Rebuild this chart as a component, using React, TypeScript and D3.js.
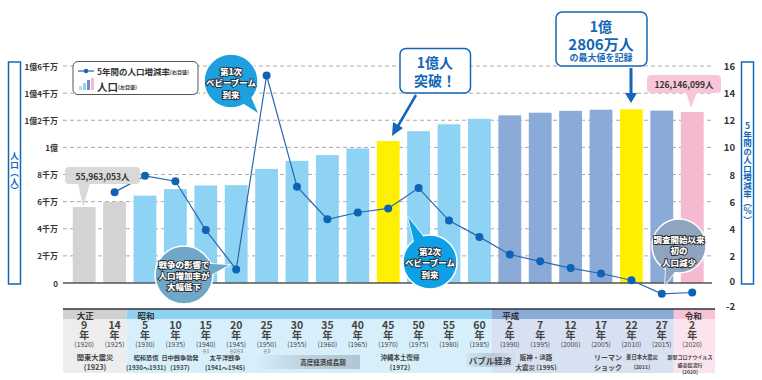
import React from 'react';
import * as d3 from 'd3';

const years = [1920, 1925, 1930, 1935, 1940, 1945, 1950, 1955, 1960, 1965, 1970, 1975, 1980, 1985, 1990, 1995, 2000, 2005, 2010, 2015, 2020];
const eraYearLabels = ['9', '14', '5', '10', '15', '20', '25', '30', '35', '40', '45', '50', '55', '60', '2', '7', '12', '17', '22', '27', '2'];
const population = [55963053, 59736822, 64450005, 69254148, 71933000, 72147000, 84114574, 90076594, 94301623, 99209137, 104665171, 111939643, 117060396, 121048923, 123611167, 125570246, 126925843, 127767994, 128057352, 127094745, 126146099];
const growthRate: (number | null)[] = [null, 6.7, 7.9, 7.5, 3.9, 1.0, 15.3, 7.1, 4.7, 5.2, 5.5, 7.0, 4.6, 3.4, 2.1, 1.6, 1.1, 0.7, 0.2, -0.8, -0.7];
const barColors = ['#d3d3d3', '#d3d3d3', '#8fd3f4', '#8fd3f4', '#8fd3f4', '#8fd3f4', '#8fd3f4', '#8fd3f4', '#8fd3f4', '#8fd3f4', '#fff000', '#8fd3f4', '#8fd3f4', '#8fd3f4', '#8aaad8', '#8aaad8', '#8aaad8', '#8aaad8', '#fff000', '#8aaad8', '#f5b9d0'];
const leftTicks = [0, 20000000, 40000000, 60000000, 80000000, 100000000, 120000000, 140000000, 160000000];
const leftTickLabels = ['0', '2千万', '4千万', '6千万', '8千万', '1億', '1億2千万', '1億4千万', '1億6千万'];
const rightTicks = [-2, 0, 2, 4, 6, 8, 10, 12, 14, 16];
const notes: Record<number, string> = { 1940: '※1', 1945: '※2※3', 1950: '※3' };
const eras = [
  { name: '大正', start: 1920, head: '#d0d0d0', body: '#ededed' },
  { name: '昭和', start: 1930, head: '#8fd3f4', body: '#d7effb' },
  { name: '平成', start: 1990, head: '#8aaad8', body: '#d7e1f1' },
  { name: '令和', start: 2020, head: '#f6c2d6', body: '#fbe4ed' },
];

const FONT = '"Noto Sans CJK JP", "Noto Sans", sans-serif';
const BLUE = '#1466b8';

function Callout({ cx, cy, r, tip, fill, lines, ly }: { cx: number; cy: number; r: number; tip: [number, number]; fill: string; lines: string[]; ly: number[] }) {
  const ang = Math.atan2(tip[1] - cy, tip[0] - cx);
  const b1: [number, number] = [cx + Math.cos(ang - 0.3) * r * 0.8, cy + Math.sin(ang - 0.3) * r * 0.8];
  const b2: [number, number] = [cx + Math.cos(ang + 0.3) * r * 0.8, cy + Math.sin(ang + 0.3) * r * 0.8];
  const tri = `M${b1[0]},${b1[1]}L${tip[0]},${tip[1]}L${b2[0]},${b2[1]}Z`;
  return (
    <g>
      <path d={tri} fill={fill} stroke="#fff" strokeWidth={1.5} />
      <circle cx={cx} cy={cy} r={r} fill={fill} stroke="#fff" strokeWidth={1.5} />
      <path d={tri} fill={fill} />
      <text textAnchor="middle" dominantBaseline="central" fontSize={8.5} fontWeight={900} fill="#fff" stroke="#222" strokeWidth={1.7} style={{ paintOrder: 'stroke' }}>
        {lines.map((t, i) => (
          <tspan key={i} x={cx} y={ly[i]}>{t}</tspan>
        ))}
      </text>
    </g>
  );
}

function Multi({ x, ys, lines, size }: { x: number; ys: number[]; lines: string[]; size: number }) {
  return (
    <text textAnchor="middle" dominantBaseline="central" fontSize={size} fontWeight={700} fill="#444">
      {lines.map((t, i) => <tspan key={i} x={x} y={ys[i]}>{t}</tspan>)}
    </text>
  );
}

export default function App() {
  const W = 762, H = 380;
  const x = d3.scaleBand<number>().domain(years).range([69, 707.4]).paddingInner(0.25).paddingOuter(0.125);
  const yL = d3.scaleLinear().domain([0, 160000000]).range([283, 66]);
  const yR = d3.scaleLinear().domain([0, 16]).range([283, 66]);
  const cxOf = (yr: number) => (x(yr) as number) + x.bandwidth() / 2;
  const lineData = years.map((yr, i) => ({ yr, v: growthRate[i] })).filter(d => d.v !== null) as { yr: number; v: number }[];
  const line = d3.line<{ yr: number; v: number }>().x(d => cxOf(d.yr)).y(d => yR(d.v));
  const gridLeft = 63, gridRight = 712;
  const eraX = (i: number) => (i === 0 ? 63 : (x(eras[i].start) as number) - 7);
  const eraEnd = (i: number) => (i === eras.length - 1 ? 715 : eraX(i + 1));

  const events = [
    { t: ['関東大震災', '(1923)'], x: 95, s: 7.3 },
    { t: ['昭和恐慌', '(1930〜1931)'], x: 146, s: 6.2 },
    { t: ['日中戦争勃発', '(1937)'], x: 180, s: 6.2 },
    { t: ['太平洋戦争', '(1941〜1945)'], x: 225, s: 6.2 },
    { t: ['沖縄本土復帰', '(1972)'], x: 400, s: 6.5 },
    { t: ['阪神・淡路', '大震災 (1995)'], x: 536, s: 6.5 },
    { t: ['リーマン', 'ショック'], x: 608, s: 7 },
    { t: ['東日本大震災', '(2011)'], x: 642, s: 5.3 },
  ];

  const vstyle: React.CSSProperties = { writingMode: 'vertical-rl' as any, textOrientation: 'upright' as any };

  return (
    <svg width={W} height={H} style={{ position: 'absolute', left: 0, top: 0, fontFamily: FONT }} fontFamily={FONT}>
      <defs>
        <linearGradient id="g1" x1="0" x2="1" y1="0" y2="0">
          <stop offset="0" stopColor="#b4c6d4" stopOpacity={0.05} />
          <stop offset="0.5" stopColor="#b4c6d4" stopOpacity={0.8} />
          <stop offset="1" stopColor="#b4c6d4" stopOpacity={1} />
        </linearGradient>
        <linearGradient id="g2" x1="0" x2="1" y1="0" y2="0">
          <stop offset="0" stopColor="#b4c6d4" stopOpacity={0.2} />
          <stop offset="0.5" stopColor="#b4c6d4" stopOpacity={0.9} />
          <stop offset="1" stopColor="#b4c6d4" stopOpacity={0.1} />
        </linearGradient>
      </defs>
      <rect width={W} height={H} fill="#fff" />
      {leftTicks.slice(1).map(t => (
        <line key={t} x1={gridLeft} x2={gridRight} y1={yL(t)} y2={yL(t)} stroke="#aaa" strokeWidth={1} strokeDasharray="4,3" />
      ))}
      {leftTicks.map((t, i) => (
        <text key={t} x={58} y={yL(t)} textAnchor="end" dominantBaseline="central" fontSize={8} fontWeight={700} fill="#333">{leftTickLabels[i]}</text>
      ))}
      {rightTicks.map(t => (
        <text key={t} x={735} y={yR(t) - (t === -2 ? 4 : t === 0 ? 2 : 0)} textAnchor="end" dominantBaseline="central" fontSize={9.5} fontWeight={700} fill="#333">{t}</text>
      ))}
      {years.map((yr, i) => (
        <rect key={yr} x={x(yr)} y={yL(population[i])} width={x.bandwidth()} height={yL(0) - yL(population[i])} fill={barColors[i]} />
      ))}
      <line x1={gridLeft} x2={gridRight} y1={yL(0)} y2={yL(0)} stroke="#555" strokeWidth={1.5} />
      <path d={line(lineData) || ''} fill="none" stroke="#2a68b2" strokeWidth={1.2} />
      {lineData.map(d => (
        <circle key={d.yr} cx={cxOf(d.yr)} cy={yR(d.v)} r={4} fill="#0f63b6" />
      ))}
      <rect x={8.5} y={62} width={12} height={222} fill="none" stroke={BLUE} strokeWidth={1.5} />
      <text x={14.5} y={173} textAnchor="middle" fontSize={8.5} fontWeight={700} fill={BLUE} style={vstyle}>人口（人）</text>
      <rect x={741.5} y={62} width={12} height={222} fill="none" stroke={BLUE} strokeWidth={1.5} />
      <text x={747.5} y={173} textAnchor="middle" fontSize={8.5} fontWeight={700} fill={BLUE} style={vstyle}>5年間の人口増減率（%）</text>
      <rect x={73} y={61.5} width={125} height={33} rx={5} fill="#fff" stroke="#555" strokeWidth={1} />
      <line x1={78} x2={94} y1={71} y2={71} stroke={BLUE} strokeWidth={1.2} />
      <circle cx={86} cy={71} r={2.2} fill={BLUE} />
      <text x={97} y={71} dominantBaseline="central" fontSize={8.5} fontWeight={700} fill="#333">5年間の人口増減率<tspan fontSize={5}>(右目盛)</tspan></text>
      <rect x={79} y={86} width={3} height={4} fill="#d3d3d3" />
      <rect x={83} y={83} width={3} height={7} fill="#8fd3f4" />
      <rect x={87} y={80} width={3} height={10} fill="#6d8fc6" />
      <rect x={91} y={78} width={3} height={12} fill="#f5b9d0" />
      <text x={97} y={86} dominantBaseline="central" fontSize={10.5} fontWeight={700} fill="#333">人口<tspan fontSize={5}>(左目盛)</tspan></text>
      <path d="M78,183 L83,207 L90,183 Z" fill="#d9d9d9" />
      <rect x={65} y={167} width={75} height={17} rx={4} fill="#d9d9d9" />
      <text x={102.5} y={175.5} textAnchor="middle" dominantBaseline="central" fontSize={8.5} fontWeight={700} fill="#333">55,963,053人</text>
      <path d="M686,92 L691,108 L697,92 Z" fill="#f7c7d9" />
      <rect x={647} y={75} width={74} height={18} rx={4} fill="#f7c7d9" />
      <text x={684} y={84} textAnchor="middle" dominantBaseline="central" fontSize={8.5} fontWeight={700} fill="#333">126,146,099人</text>
      <Callout cx={231} cy={81} r={27} tip={[258, 113]} fill="#1ea0e0" lines={['第1次', 'ベビーブーム', '到来']} ly={[70.5, 82, 93.5]} />
      <Callout cx={184} cy={275} r={29} tip={[229, 265]} fill="#70a7c6" lines={['戦争の影響で', '人口増加率が', '大幅低下']} ly={[264, 275, 286]} />
      <Callout cx={430} cy={262} r={27} tip={[408, 217]} fill="#0ea0e6" lines={['第2次', 'ベビーブーム', '到来']} ly={[250.5, 262, 273.5]} />
      <Callout cx={679} cy={246} r={27} tip={[665, 285]} fill="#8fa4bf" lines={['調査開始以来', '初の', '人口減少']} ly={[238.5, 250, 261.5]} />
      <rect x={400} y={48.5} width={70.5} height={44.5} rx={6} fill="#fff" stroke={BLUE} strokeWidth={1.5} />
      <text textAnchor="middle" dominantBaseline="central" fontSize={14} fontWeight={700} fill={BLUE}>
        <tspan x={435} y={62}>1億人</tspan>
        <tspan x={435} y={80}>突破！</tspan>
      </text>
      <line x1={416} y1={95} x2={398} y2={126} stroke={BLUE} strokeWidth={2.5} />
      <path d="M392,136 L393,122 L403,128 Z" fill={BLUE} />
      <rect x={556} y={12} width={91} height={54} rx={6} fill="#fff" stroke={BLUE} strokeWidth={1.5} />
      <text textAnchor="middle" dominantBaseline="central" fontWeight={700} fill={BLUE}>
        <tspan x={601} y={26} fontSize={14}>1億</tspan>
        <tspan x={601} y={42.5} fontSize={15}>2806万人</tspan>
        <tspan x={601} y={57} fontSize={9}>の最大値を記録</tspan>
      </text>
      <line x1={631} y1={68} x2={631} y2={94} stroke={BLUE} strokeWidth={3} />
      <path d="M625,93 L637,93 L631,103 Z" fill={BLUE} />
      {eras.map((e, i) => (
        <g key={e.name}>
          <rect x={eraX(i)} y={309} width={eraEnd(i) - eraX(i)} height={10} fill={e.head} />
          <rect x={eraX(i)} y={319} width={eraEnd(i) - eraX(i)} height={54} fill={e.body} />
          <text x={cxOf(e.start) + 1} y={314.5} textAnchor="middle" dominantBaseline="central" fontSize={8.5} fontWeight={700} fill="#333">{e.name}</text>
        </g>
      ))}
      <line x1={63} x2={715} y1={309} y2={309} stroke="#333" strokeWidth={1.5} />
      {years.map((yr, i) => (
        <text key={yr} textAnchor="middle" dominantBaseline="central" fill="#444">
          <tspan x={cxOf(yr)} y={324} fontSize={10.5} fontWeight={700}>{eraYearLabels[i]}</tspan>
          <tspan x={cxOf(yr)} y={334} fontSize={10} fontWeight={700}>年</tspan>
          <tspan x={cxOf(yr)} y={343.5} fontSize={6.8}>({yr})</tspan>
          {notes[yr] && <tspan x={cxOf(yr)} y={350.5} fontSize={4.3}>{notes[yr]}</tspan>}
        </text>
      ))}
      <rect x={258} y={355} width={102} height={14} fill="url(#g1)" />
      <rect x={466} y={353} width={50} height={14} fill="url(#g2)" />
      <text x={323} y={362} textAnchor="middle" dominantBaseline="central" fontSize={6.5} fontWeight={700} fill="#444">高度経済成長期</text>
      <text x={490} y={360} textAnchor="middle" dominantBaseline="central" fontSize={8.5} fontWeight={700} fill="#444">バブル経済</text>
      {events.map((e, i) => (
        <Multi key={i} x={e.x} ys={[357, 366.5]} lines={e.t} size={e.s} />
      ))}
      <Multi x={690} ys={[355.5, 363.5, 371]} lines={['新型コロナウイルス', '感染症流行', '(2020)']} size={5} />
    </svg>
  );
}
